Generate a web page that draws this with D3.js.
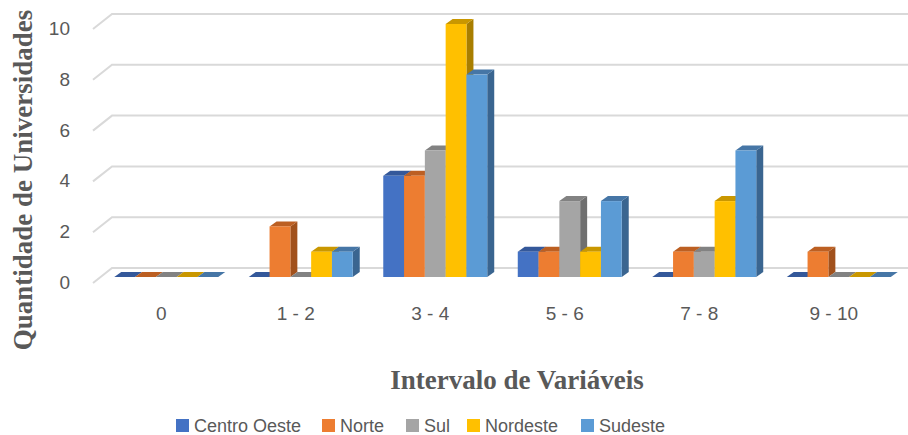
<!DOCTYPE html>
<html>
<head>
<meta charset="utf-8">
<script src="https://cdn.jsdelivr.net/npm/d3@7"></script>
<style>
  html, body { margin: 0; padding: 0; background: #fff; }
  svg { display: block; }
</style>
</head>
<body>
<svg id="chart" width="908" height="435"></svg>
<script>
// Intervals of the evaluation variable (x categories)
const categories = ["0", "1 - 2", "3 - 4", "5 - 6", "7 - 8", "9 - 10"];

// Number of universities per region in each interval
const centroOeste = [0, 0, 4, 1, 0, 0];
const norte       = [0, 2, 4, 1, 1, 1];
const sul         = [0, 0, 5, 3, 1, 0];
const nordeste    = [0, 1, 10, 1, 3, 0];
const sudeste     = [0, 1, 8, 3, 5, 0];

const seriesNames = ["Centro Oeste", "Norte", "Sul", "Nordeste", "Sudeste"];
const yTicks = [0, 2, 4, 6, 8, 10];

const series = [
  { name: seriesNames[0], values: centroOeste, front: "#4472C4", top: "#34589A", side: "#2F5089" },
  { name: seriesNames[1], values: norte,       front: "#ED7D31", top: "#BC5F22", side: "#A1511C" },
  { name: seriesNames[2], values: sul,         front: "#A5A5A5", top: "#828282", side: "#6F6F6F" },
  { name: seriesNames[3], values: nordeste,    front: "#FFC000", top: "#C99700", side: "#A87E00" },
  { name: seriesNames[4], values: sudeste,     front: "#5B9BD5", top: "#4676A6", side: "#3A6590" }
];

const svg = d3.select("#chart");
const textColor = "#595959";
const sansFont = "'Liberation Sans', Arial, sans-serif";
const serifFont = "'Liberation Serif', 'Times New Roman', serif";

// 3D depth offset of the bars
const depthX = 7, depthY = 5;
// wall gridlines: back plane and the slant towards the front
const wallDX = 19, wallDY = 15;

const x = d3.scaleBand().domain(categories).range([99, 906]).paddingInner(0.227).paddingOuter(0.1135);
const xSeries = d3.scaleBand().domain(seriesNames).range([0, x.bandwidth()]);
const y = d3.scaleLinear().domain([0, 10]).range([277, 24]);      // bar front faces
const yBack = d3.scaleLinear().domain([0, 10]).range([268, 14]);  // back wall

// Gridlines on the back wall with the slanted side-wall segment
const grid = svg.append("g");
yTicks.forEach(v => {
  const yb = yBack(v);
  grid.append("path")
    .attr("d", `M${112 - wallDX},${yb + wallDY} L112,${yb} L908,${yb}`)
    .attr("fill", "none")
    .attr("stroke", "#D9D9D9")
    .attr("stroke-width", 2);
});

// Value axis labels
svg.append("g").selectAll("text").data(yTicks).join("text")
  .attr("x", 70)
  .attr("y", d => yBack(d) + wallDY + 1)
  .attr("text-anchor", "end")
  .attr("dominant-baseline", "middle")
  .attr("font-family", sansFont)
  .attr("font-size", 19)
  .attr("fill", textColor)
  .text(d => d);

// Bars
const bars = svg.append("g");
categories.forEach((cat, ci) => {
  series.forEach(s => {
    const v = s.values[ci];
    const x0 = x(cat) + xSeries(s.name);
    const w = xSeries.bandwidth();
    const yTop = y(v);
    const yBase = y(0);
    const g = bars.append("g");
    if (v > 0) {
      // side face
      g.append("path")
        .attr("d", `M${x0 + w},${yBase} L${x0 + w + depthX},${yBase - depthY} L${x0 + w + depthX},${yTop - depthY} L${x0 + w},${yTop} Z`)
        .attr("fill", s.side);
    }
    // top face
    g.append("path")
      .attr("d", `M${x0},${yTop} L${x0 + depthX},${yTop - depthY} L${x0 + w + depthX},${yTop - depthY} L${x0 + w},${yTop} Z`)
      .attr("fill", s.top);
    if (v > 0) {
      // front face
      g.append("rect")
        .attr("x", x0).attr("y", yTop)
        .attr("width", w).attr("height", yBase - yTop)
        .attr("fill", s.front);
    }
  });
});

// Category labels
svg.append("g").selectAll("text").data(categories).join("text")
  .attr("x", d => x(d) + x.bandwidth() / 2 - 5)
  .attr("y", 320)
  .attr("text-anchor", "middle")
  .attr("font-family", sansFont)
  .attr("font-size", 19)
  .attr("fill", textColor)
  .text(d => d);

// Axis titles
svg.append("text")
  .attr("transform", "translate(32,180) rotate(-90)")
  .attr("text-anchor", "middle")
  .attr("font-family", serifFont)
  .attr("font-weight", "bold")
  .attr("font-size", 27)
  .attr("fill", textColor)
  .text("Quantidade de Universidades");

svg.append("text")
  .attr("x", 517)
  .attr("y", 389)
  .attr("text-anchor", "middle")
  .attr("font-family", serifFont)
  .attr("font-weight", "bold")
  .attr("font-size", 27)
  .attr("fill", textColor)
  .text("Intervalo de Variáveis");

// Legend
const legendX = [176, 322, 406, 467, 581];
const legend = svg.append("g");
series.forEach((s, i) => {
  legend.append("rect")
    .attr("x", legendX[i]).attr("y", 419)
    .attr("width", 13).attr("height", 13)
    .attr("fill", s.front);
  legend.append("text")
    .attr("x", legendX[i] + 18)
    .attr("y", 432)
    .attr("font-family", sansFont)
    .attr("font-size", 18)
    .attr("fill", textColor)
    .text(s.name);
});
</script>
</body>
</html>
